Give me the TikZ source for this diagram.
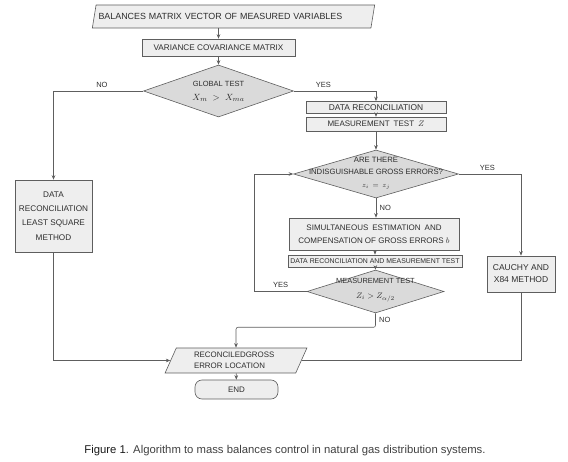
\documentclass[tikz,border=0pt]{standalone}
\usepackage{fontspec}
\setmainfont{Liberation Sans}
\usepackage{xcolor}
\usetikzlibrary{arrows.meta,positioning,shapes.geometric}

\definecolor{linegray}{HTML}{5E5E5E}
\definecolor{boxgray}{HTML}{EEEEEE}
\definecolor{diagray}{HTML}{DADADA}
\definecolor{textgray}{HTML}{2E2E2E}

\begin{document}
\begin{tikzpicture}[
    x=1pt, y=-1pt,
    every node/.style={font=\fontsize{7.5}{9}\selectfont, text=textgray},
    box/.style={draw=linegray, fill=boxgray, inner sep=1pt, align=center, line width=0.6pt},
    decision/.style={draw=linegray, fill=diagray, diamond, inner sep=0pt, line width=0.6pt},
    io/.style={draw=linegray, fill=boxgray, trapezium, trapezium left angle=66, trapezium right angle=114, trapezium stretches=true, inner sep=1pt, align=left, line width=0.6pt},
    term/.style={draw=linegray, fill=boxgray, rounded corners=7pt, inner sep=1pt, line width=0.6pt},
    arr/.style={-{Stealth[length=4.5pt, width=3.6pt]}, draw=linegray, line width=0.6pt},
    line/.style={draw=linegray, line width=0.6pt},
]
    \useasboundingbox (0,0) rectangle (568,462);

    % Input
    \node[io, minimum width=283, minimum height=23, text width=270, font=\fontsize{8.9}{10}\selectfont] (balances) at (233.5,16.5) {BALANCES MATRIX VECTOR OF MEASURED VARIABLES};
    \node[box, minimum width=153, minimum height=17, font=\fontsize{8.2}{9}\selectfont] (variance) at (218.5,47.5) {VARIANCE COVARIANCE MATRIX};
    \draw[arr] (variance |- balances.south) -- (variance.north);

    % Global test
    \node[decision, minimum width=150, minimum height=52] (global) at (218.5,91) {};
    \node[align=center, font=\fontsize{7.5}{15}\selectfont] (globaltxt) at (global) {GLOBAL TEST\\[-1pt] {\fontsize{9.5}{10}\selectfont$X_m\;>\;X_{ma}$}};
    \draw[arr] (variance) -- (global.north);

    % NO branch
    \node[box, minimum width=77, minimum height=72, font=\fontsize{8.2}{14.3}\selectfont] (leastsq) at (53.5,216) {DATA\\RECONCILIATION\\LEAST SQUARE\\METHOD};
    \draw[arr] (global.west) -| node[above, pos=0.23] {NO} (leastsq.north);

    % YES branch
    \node[box, minimum width=140, minimum height=12, font=\fontsize{8.4}{9}\selectfont] (datarec) at (376,107.5) {DATA RECONCILIATION};
    \node[box, minimum width=140, minimum height=14, below=3pt of datarec, font=\fontsize{8}{9}\selectfont] (meastest) {MEASUREMENT\enspace TEST\enspace $Z$};
    \draw[arr] (global.east) -| node[above, pos=0.18] {YES} (datarec.north);
    \draw[arr] (datarec) -- (meastest);

    % Gross errors
    \node[decision, minimum width=165, minimum height=48] (gross) at (376,174) {};
    \node[align=center, font=\fontsize{7.7}{12.5}\selectfont] (grosstxt) at (376,173) {ARE THERE\\INDISGUISHABLE GROSS ERRORS?\\{\fontsize{7}{8}\selectfont$z_i\,=\,z_j$}};
    \draw[arr] (meastest) -- (gross.north);

    \node[box, minimum width=170, minimum height=32, font=\fontsize{8}{13}\selectfont] (simul) at (374,234) {SIMULTANEOUS\enspace ESTIMATION\enspace AND\\COMPENSATION OF GROSS ERRORS $b$};
    \draw[arr] (gross.south) -- node[right] {NO} (gross.south |- simul.north);

    \node[box, minimum width=174, minimum height=12, font=\fontsize{6.9}{8}\selectfont] (drmt) at (375,261) {DATA RECONCILIATION AND MEASUREMENT TEST};
    \draw[arr] (simul.south -| drmt) -- (drmt.north);

    \node[decision, minimum width=137, minimum height=43] (mtest) at (375.5,291.5) {};
    \node[align=center, font=\fontsize{7.4}{16}\selectfont] (mtesttxt) at (375.5,290) {MEASUREMENT TEST\\[-1pt] {\fontsize{8.5}{9}\selectfont$Z_i > Z_{\alpha/2}$}};
    \draw[arr] (drmt) -- (mtest.north);
    \draw[arr] (mtest.west) -- node[above] {YES} ++(-52,0) |- (gross.west);

    % Cauchy
    \node[box, minimum width=68, minimum height=36, font=\fontsize{8.5}{12}\selectfont] (cauchy) at (521,274) {CAUCHY AND\\X84 METHOD};
    \draw[arr] (gross.east) -| node[above, pos=0.23] {YES} (cauchy.north);

    % Output
    \node[io, minimum width=142, minimum height=25, text width=84, font=\fontsize{7.9}{10.5}\selectfont] (recon) at (236,360.5) {RECONCILEDGROSS\\ERROR LOCATION};
    \node[term, minimum width=83, minimum height=19, font=\fontsize{8}{9}\selectfont] (end) at (236.5,389.5) {END};
    \draw[arr, rounded corners=2pt] (mtest.south) -- node[right] {NO} ++(0,14) -| (recon.north);
    \draw[arr] (leastsq.south) |- (recon.west);
    \draw[line] (cauchy.south) |- (recon.east);
    \draw[arr] (recon) -- (end);

    % Caption
    \node[font=\fontsize{11.3}{13}\selectfont, text=black!75] (caption) at (285,451) {{\color{black!90}Figure 1}. Algorithm to mass balances control in natural gas distribution systems.};
\end{tikzpicture}
\end{document}
